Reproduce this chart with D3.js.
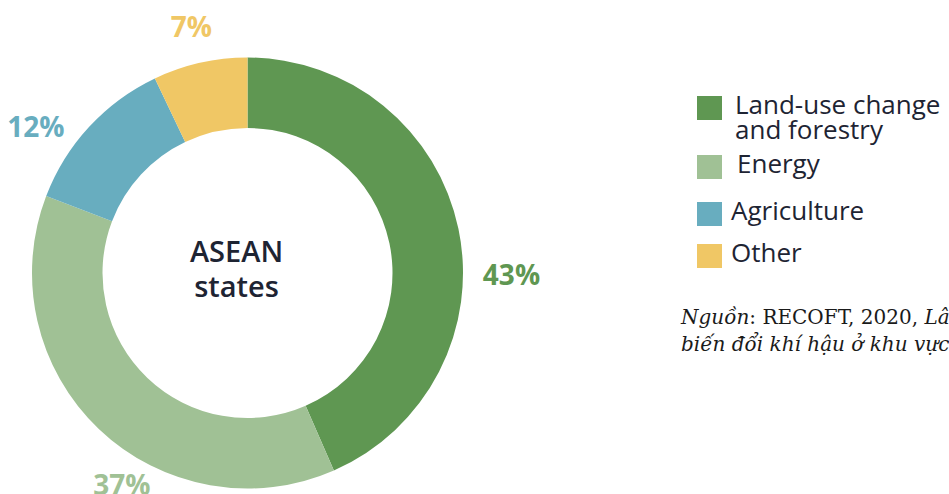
<!DOCTYPE html>
<html>
<head>
<meta charset="utf-8">
<script src="https://cdn.jsdelivr.net/npm/d3@7"></script>
<style>
    body { margin: 0; background: #fff; }
    svg { display: block; }
</style>
</head>
<body>
<script>
// Emission shares, ASEAN states
const categories = ["Land-use change and forestry", "Energy", "Agriculture", "Other"];
const shares = [43, 37, 12, 7];
const legendLines = [["Land-use change", "and forestry"], ["Energy"], ["Agriculture"], ["Other"]];
const colors = ["#5f9752", "#a0c195", "#68adbf", "#f0c765"];
const centerTitle = ["ASEAN", "states"];
const sourceLines = [
    [{t: "Nguồn", i: true}, {t: ": RECOFT, 2020, ", i: false}, {t: "Lâm nghiệp và", i: true}],
    [{t: "biến đổi khí hậu ở khu vực ASEAN", i: true}]
];

// where the percentage labels sit (angle in degrees clockwise from top, radius)
const labelAngle = [90.4, 210.7, 304.6, 347.1];
const labelRadius = [264, 246, 257, 252];

const width = 949, height = 494;
const cx = 247.5, cy = 273;
const outerR = 215.5, innerR = 145;

const svg = d3.select("body")
    .append("svg")
    .attr("width", width)
    .attr("height", height);

const data = categories.map((c, i) => ({name: c, value: shares[i], color: colors[i], idx: i}));

const pie = d3.pie()
    .value(d => d.value)
    .sort(null);

const arc = d3.arc()
    .innerRadius(innerR)
    .outerRadius(outerR);

const donut = svg.append("g")
    .attr("transform", `translate(${cx},${cy})`);

donut.selectAll("path")
    .data(pie(data))
    .enter()
    .append("path")
    .attr("d", arc)
    .attr("fill", d => d.data.color);

// percentage labels
donut.selectAll("text.pct")
    .data(data)
    .enter()
    .append("text")
    .attr("class", "pct")
    .attr("x", d => labelRadius[d.idx] * Math.sin(labelAngle[d.idx] * Math.PI / 180))
    .attr("y", d => -labelRadius[d.idx] * Math.cos(labelAngle[d.idx] * Math.PI / 180))
    .attr("dy", "0.36em")
    .attr("text-anchor", "middle")
    .style("font-family", "'Open Sans', sans-serif")
    .style("font-weight", 700)
    .style("font-size", "28px")
    .style("fill", d => d.color)
    .text(d => d.value + "%");

// center title (sits a little left of the ring's centre, as in the original)
donut.selectAll("text.title")
    .data(centerTitle)
    .enter()
    .append("text")
    .attr("class", "title")
    .attr("x", -11)
    .attr("y", (d, i) => -11 + i * 35)
    .attr("text-anchor", "middle")
    .style("font-family", "'Open Sans', sans-serif")
    .style("font-weight", 600)
    .style("font-size", "29px")
    .style("fill", "#1e2433")
    .text(d => d);

// legend
const legendY = [96, 155, 202, 244];
const legendTextX = [735, 737, 731, 731];
const legend = svg.append("g");

const item = legend.selectAll("g")
    .data(data)
    .enter()
    .append("g")
    .attr("transform", d => `translate(0,${legendY[d.idx]})`);

item.append("rect")
    .attr("x", 697)
    .attr("y", 0)
    .attr("width", 25)
    .attr("height", 24)
    .attr("fill", d => d.color);

item.each(function (d) {
    const g = d3.select(this);
    legendLines[d.idx].forEach((line, j) => {
        g.append("text")
            .attr("x", legendTextX[d.idx])
            .attr("y", 18 + j * 25)
            .style("font-family", "'Open Sans', sans-serif")
            .style("font-size", "26px")
            .style("fill", "#1e2433")
            .text(line);
    });
});

// source note
const source = svg.append("g");
sourceLines.forEach((parts, j) => {
    const t = source.append("text")
        .attr("x", 681)
        .attr("y", 324 + j * 27)
        .style("font-family", "'DejaVu Serif', serif")
        .style("font-size", "20px")
        .style("fill", "#1a1a1a");
    parts.forEach(p => {
        t.append("tspan")
            .style("font-style", p.i ? "italic" : "normal")
            .text(p.t);
    });
});
</script>
</body>
</html>
